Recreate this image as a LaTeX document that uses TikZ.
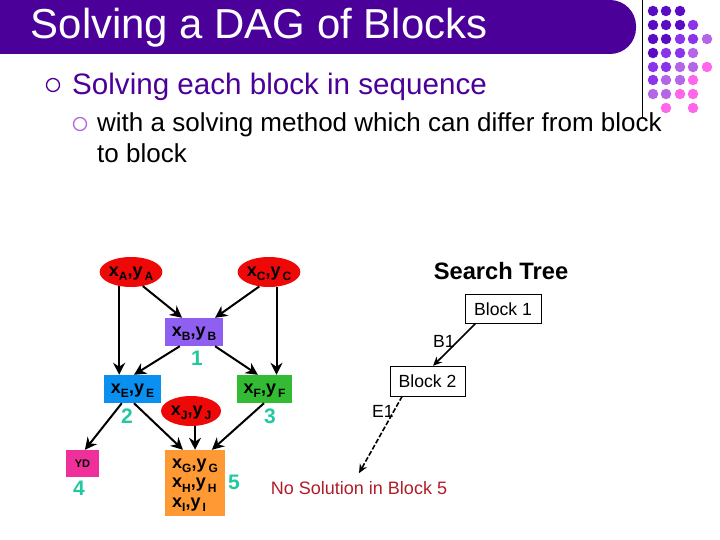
\documentclass[tikz,border=0pt]{standalone}
\usepackage{fontspec}
\setmainfont{Liberation Sans}
\usetikzlibrary{shapes.geometric,arrows.meta,positioning}
\definecolor{barviolet}{HTML}{4B0099}
\definecolor{dotdark}{HTML}{5A0CC4}
\definecolor{dotmid}{HTML}{8A35EA}
\definecolor{dotlight}{HTML}{B566E8}
\definecolor{dotpink}{HTML}{FF66EA}
\definecolor{varred}{HTML}{EE0808}
\definecolor{blockviolet}{HTML}{8F5FF2}
\definecolor{blockblue}{HTML}{0A90F0}
\definecolor{blockgreen}{HTML}{33BB33}
\definecolor{blockpink}{HTML}{F0309A}
\definecolor{blockorange}{HTML}{FF9933}
\definecolor{numteal}{HTML}{22C8A0}
\definecolor{failred}{HTML}{B01C28}
\newcommand{\fsize}[1]{\fontsize{#1}{#1}\selectfont}
\newcommand{\vpair}[1]{x\raisebox{-.25em}{\fsize{12}#1},y\raisebox{-.25em}{\fsize{12}\,#1}}
\tikzset{
	varnode/.style={ellipse,fill=varred,minimum width=60pt,minimum height=30pt,inner sep=0pt,text height=9pt,text depth=1pt,font=\bfseries\fsize{18}},
	blocknode/.style={rectangle,inner sep=0pt,minimum height=28pt,text height=9pt,text depth=1pt,font=\bfseries\fsize{18}},
	numlabel/.style={text=numteal,font=\bfseries\fsize{21}},
	treebox/.style={rectangle,draw=black,thin,inner sep=0pt,minimum height=29pt,font=\fsize{17.6}},
	treelabel/.style={font=\fsize{17.6}},
	dot/.style={circle,inner sep=0pt,minimum size=10.5pt}
}
\begin{document}
\begin{tikzpicture}[x=1pt,y=-1pt]
	\useasboundingbox (0,0) rectangle (720,540);

	% title bar and side rule
	\fill [barviolet] (0,0) [rounded corners=26pt] -- (636,0) -- (636,54) [sharp corners] -- (0,54) -- cycle;
	\draw [black,thin] (642.5,0) -- (642.5,118);
	\node (title) at (259,28) [text=white,font=\fsize{41.9}] {Solving a DAG of Blocks};

	\foreach \cx/\cy/\shade in {
		653/11/dotdark,666/11/dotdark,680/11/dotdark,
		653/25/dotdark,666/25/dotdark,680/25/dotdark,693/25/dotmid,
		653/39/dotdark,666/39/dotdark,680/39/dotmid,693/39/dotmid,707/39/dotlight,
		653/53/dotdark,666/53/dotmid,680/53/dotmid,693/53/dotlight,
		653/67/dotmid,666/67/dotmid,680/67/dotlight,693/67/dotlight,707/67/dotpink,
		653/80/dotmid,666/80/dotlight,680/80/dotlight,693/80/dotpink,
		653/94/dotlight,666/94/dotlight,680/94/dotpink,693/94/dotpink,
		666/108/dotpink,693/108/dotpink}
		\node [dot,fill=\shade] at (\cx,\cy) {};

	% bullets
	\node (bulletA) at (53,85) [circle,draw=barviolet,line width=1.3pt,inner sep=0pt,minimum size=13pt] {};
	\node (bulletB) at (80,124) [circle,draw=dotlight,line width=1.3pt,inner sep=0pt,minimum size=13pt] {};
	\node (headA) [anchor=west,inner sep=0pt,text=barviolet,font=\fsize{29.6}] at (72,87) {Solving each block in sequence};
	\node (headB) [anchor=north west,inner sep=0pt,align=left,font=\fontsize{26}{31}\selectfont] at (97,112) {with a solving method which can differ from block\\to block};

	% the DAG
	\node (xA) at (131,272) [varnode] {\vpair{A}};
	\node (xC) at (269,272) [varnode] {\vpair{C}};
	\node (xB) at (194,332) [blocknode,fill=blockviolet,minimum width=58pt] {\vpair{B}};
	\node (xE) at (132.5,389) [blocknode,fill=blockblue,minimum width=57pt] {\vpair{E}};
	\node (xF) at (264.5,389) [blocknode,fill=blockgreen,minimum width=55pt] {\vpair{F}};
	\node (xJ) at (191,411) [varnode] {\vpair{J}};
	\node (yD) at (82.5,463.5) [blocknode,fill=blockpink,minimum width=33pt,minimum height=27pt,font=\bfseries\fsize{11}] {YD};
	\node (xG) at (195,483) [blocknode,fill=blockorange,minimum width=60pt,minimum height=66pt,align=left,text height=52pt,text depth=4pt,font=\bfseries\fontsize{18}{19.5}\selectfont] {\vpair{G}\\\vpair{H}\\\vpair{I}};

	\node (numB) at (197,358) [numlabel] {1};
	\node (numE) at (127,416) [numlabel] {2};
	\node (numF) at (270,416) [numlabel] {3};
	\node (numD) at (79,488) [numlabel] {4};
	\node (numG) at (234,482) [numlabel] {5};

	\begin{scope}[every edge/.style={draw=black,line width=2pt},>={Stealth[length=12pt,width=12pt]}]
		\path [->] (xA.-130) edge (xA.-130 |- xE.north);
		\path [->] (xA.-50) edge (xB.130);
		\path [->] (xC.-124) edge (xB.34);
		\path [->] (xC.-63) edge (xC.-63 |- xF.north);
		\path [->] (xB.-135) edge (xE.84);
		\path [->] (xB.-34) edge (xF.115);
		\path [->] (xE.-127) edge (yD.80);
		\path [->] (xE.-84) edge (xG.110);
		\path [->] (xJ.-75) edge (xJ.-75 |- xG.north);
		\path [->] (xF.-92) edge (xG.63);
	\end{scope}

	% the search tree
	\node (treeTitle) at (501,271) [font=\bfseries\fsize{23.7}] {Search Tree};
	\node (blockA) at (503,309) [treebox,minimum width=76pt] {Block 1};
	\node (blockB) at (427.5,381) [treebox,minimum width=75pt,minimum height=30pt] {Block 2};
	\node (noSol) at (359,488) [text=failred,inner ysep=8pt,font=\fsize{18}] {No Solution in Block 5};
	\node (labB) at (444,341) [treelabel] {B1};
	\node (labE) at (383,411) [treelabel] {E1};

	\begin{scope}[every edge/.style={draw=black,line width=1.6pt},>={Stealth[length=9pt,width=8pt]}]
		\path [->] (blockA.-152) edge (blockB.70);
		\path [->,dash pattern=on 5pt off 2pt] (blockB.-149) edge (noSol.north);
	\end{scope}
\end{tikzpicture}
\end{document}
